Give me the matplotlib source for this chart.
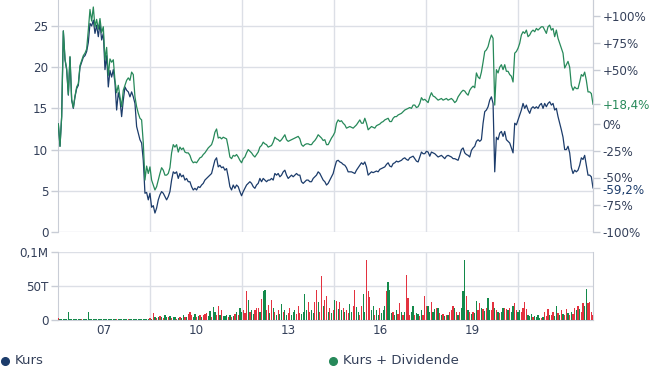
import matplotlib
matplotlib.use("Agg")
import matplotlib.pyplot as plt
from matplotlib.lines import Line2D
from matplotlib.transforms import ScaledTranslation
import pandas as pd
import numpy as np

# ---------------- data ----------------
kurs = [
    13.1, 10.4, 14.0, 24.4, 20.9, 19.7, 16.6, 21.2, 16.0, 15.0,
    16.4, 17.4, 17.8, 20.0, 20.6, 21.2, 21.4, 21.9, 23.0, 25.3,
    25.0, 25.7, 24.1, 25.1, 23.7, 25.3, 23.3, 24.1, 19.7, 21.4,
    17.6, 19.6, 18.8, 19.7, 18.1, 14.8, 16.9, 16.0, 14.0, 16.0,
    17.6, 17.2, 17.0, 16.4, 17.0, 16.4, 15.6, 12.8, 12.0, 11.2,
    10.8, 8.7, 4.7, 4.8, 3.9, 4.7, 3.0, 3.2, 2.3, 2.9,
    3.9, 4.5, 4.9, 4.7, 4.3, 3.9, 4.3, 4.9, 6.3, 7.3,
    7.1, 7.3, 6.5, 7.1, 6.7, 6.9, 6.3, 6.5, 6.1, 6.1,
    5.5, 5.1, 5.3, 5.1, 5.5, 5.4, 5.7, 5.9, 6.3, 6.5,
    6.7, 6.9, 7.1, 7.9, 8.7, 9.0, 7.9, 8.1, 7.8, 7.9,
    7.5, 7.7, 6.7, 5.5, 5.1, 5.7, 5.3, 5.7, 5.5, 4.9,
    4.4, 4.9, 5.3, 5.7, 5.9, 6.1, 5.9, 5.5, 5.3, 5.7,
    5.9, 6.5, 6.1, 6.5, 6.3, 6.1, 6.3, 6.3, 6.5, 6.3,
    7.1, 6.9, 7.1, 6.7, 6.9, 7.3, 7.5, 6.9, 6.5, 6.7,
    6.9, 6.7, 6.9, 7.1, 6.9, 6.9, 6.1, 5.9, 6.1, 6.3,
    6.3, 6.1, 6.1, 6.5, 6.7, 6.9, 7.3, 7.1, 6.7, 6.3,
    6.1, 5.7, 5.9, 6.3, 6.7, 7.1, 7.9, 8.6, 8.7, 8.5,
    8.4, 8.2, 8.1, 7.8, 7.3, 7.3, 7.3, 7.2, 7.1, 7.5,
    7.8, 8.1, 8.4, 8.2, 8.5, 7.9, 6.9, 7.1, 7.3, 7.2,
    7.3, 7.4, 7.3, 7.6, 7.7, 7.8, 7.9, 8.2, 8.4, 8.0,
    7.9, 8.3, 8.4, 8.6, 8.5, 8.6, 8.7, 8.9, 9.0, 8.8,
    8.7, 9.0, 9.1, 9.2, 8.9, 8.6, 8.5, 9.1, 9.7, 9.5,
    9.5, 9.8, 9.7, 9.2, 9.7, 9.6, 9.5, 9.3, 9.1, 9.2,
    9.3, 9.1, 8.9, 9.2, 9.3, 9.2, 9.1, 8.9, 8.9, 8.8,
    8.7, 9.3, 10.0, 10.2, 9.6, 9.4, 9.3, 9.1, 9.9, 10.2,
    10.4, 11.0, 11.2, 11.0, 11.2, 13.2, 14.6, 14.8, 15.2, 16.0,
    16.4, 15.6, 7.3, 11.5, 11.2, 12.0, 12.2, 11.6, 12.2, 11.2,
    11.0, 10.8, 10.2, 9.6, 13.2, 13.0, 13.6, 14.2, 14.8, 15.6,
    15.0, 15.4, 14.8, 14.4, 15.0, 15.2, 15.0, 15.2, 15.0, 15.4,
    15.6, 15.0, 15.6, 15.2, 15.6, 15.8, 15.4, 15.6, 14.8, 15.0,
    14.0, 13.2, 12.4, 11.5, 10.0, 10.0, 10.4, 9.6, 7.8, 7.1,
    7.5, 7.3, 7.5, 8.1, 9.0, 8.8, 9.3, 8.1, 6.9, 6.9,
    6.7, 5.35,
]

kurs_div = [
    13.1, 10.4, 14.0, 24.4, 21.0, 19.8, 16.7, 21.3, 16.1, 15.1,
    16.5, 17.6, 18.0, 20.2, 20.8, 21.4, 21.7, 22.2, 24.5, 27.0,
    25.6, 27.3, 24.9, 25.8, 24.6, 25.9, 24.2, 24.9, 20.9, 22.4,
    19.0, 21.0, 20.6, 20.9, 18.4, 16.9, 17.8, 16.4, 15.2, 17.2,
    17.8, 18.4, 18.7, 18.4, 19.4, 19.1, 16.4, 15.2, 14.4, 13.8,
    13.6, 10.8, 6.3, 8.0, 7.1, 7.9, 6.3, 5.7, 5.1, 5.5,
    6.3, 7.1, 7.8, 7.5, 6.9, 6.9, 7.1, 7.8, 9.6, 10.6,
    10.3, 10.6, 9.7, 10.3, 10.0, 10.2, 9.7, 9.6, 9.6, 9.3,
    8.7, 8.4, 8.5, 8.4, 8.7, 9.0, 9.1, 9.4, 9.6, 9.9,
    10.2, 10.4, 10.6, 11.2, 12.1, 12.5, 11.4, 11.5, 11.3, 11.5,
    11.4, 11.3, 10.3, 9.1, 8.9, 9.3, 9.2, 9.4, 9.1, 8.7,
    8.4, 8.9, 9.1, 9.6, 10.0, 9.8, 9.6, 9.3, 9.1, 9.4,
    9.7, 10.3, 10.5, 10.9, 10.7, 10.6, 10.3, 10.4, 10.5, 10.9,
    11.5, 11.3, 11.2, 11.0, 11.2, 11.5, 11.8, 11.2, 11.0, 11.1,
    11.2, 11.3, 11.4, 11.5, 11.6, 11.3, 10.6, 10.4, 10.6, 10.7,
    10.7, 10.6, 10.6, 10.9, 11.1, 11.4, 11.8, 11.6, 11.4, 11.1,
    11.2, 10.6, 10.6, 11.0, 11.4, 11.7, 12.1, 13.2, 13.6, 13.4,
    13.5, 13.2, 13.0, 12.6, 12.7, 12.8, 12.7, 12.6, 12.8, 13.0,
    13.3, 13.6, 13.2, 13.2, 13.8, 13.2, 12.4, 12.6, 12.8, 12.7,
    12.6, 12.9, 13.0, 13.1, 13.3, 13.4, 13.6, 13.7, 13.8, 13.4,
    13.4, 13.8, 14.0, 14.0, 14.2, 14.3, 14.4, 14.6, 14.8, 14.9,
    15.0, 15.1, 15.0, 15.4, 15.4, 15.1, 15.2, 15.6, 16.3, 16.0,
    16.1, 15.9, 15.7, 16.4, 16.9, 16.5, 16.4, 16.2, 16.0, 16.1,
    16.2, 16.0, 16.1, 16.2, 16.0, 16.1, 16.2, 16.0, 15.7, 15.9,
    16.4, 16.7, 17.0, 17.2, 17.1, 16.8, 16.6, 17.2, 17.5, 17.7,
    17.5, 19.3, 18.8, 18.6, 19.4, 20.6, 21.9, 22.1, 22.5, 23.3,
    23.9, 23.5, 15.4, 19.7, 19.3, 20.0, 20.3, 19.7, 20.3, 19.5,
    19.5, 19.1, 18.9, 18.2, 21.7, 21.9, 22.3, 22.9, 23.9, 24.3,
    24.1, 24.5, 23.7, 23.9, 24.3, 24.5, 24.3, 24.7, 24.5, 24.7,
    24.9, 24.9, 24.5, 24.1, 24.9, 25.1, 24.5, 24.7, 23.7, 24.5,
    23.5, 22.9, 22.3, 21.7, 19.9, 20.3, 20.7, 20.0, 17.8, 17.2,
    17.6, 17.4, 17.4, 18.2, 19.1, 18.9, 19.4, 18.4, 17.0, 17.0,
    16.8, 15.51,
]

# volume in thousands
volume = [
    3, 1, 1, 1, 1, 1, 12, 1, 1, 1, 1, 1, 1, 1, 1, 1, 1, 1, 12, 1,
    1, 1, 1, 1, 1, 1, 1, 1, 1, 1, 1, 1, 1, 1, 1, 2, 1, 1, 1, 1,
    1, 1, 2, 1, 1, 1, 1, 1, 1, 1, 1, 1, 1, 1, 2, 3, 2, 10, 4, 3,
    5, 6, 4, 3, 7, 5, 4, 6, 3, 5, 4, 2, 3, 4, 3, 8, 4, 5, 9, 11,
    7, 5, 9, 4, 6, 8, 5, 7, 9, 10, 6, 13, 5, 19, 12, 8, 20, 7, 15, 6,
    6, 8, 5, 7, 4, 6, 9, 12, 8, 17, 11, 15, 10, 42, 29, 12, 15, 9, 15, 18,
    17, 12, 30, 42, 44, 14, 22, 10, 29, 18, 12, 8, 14, 9, 23, 12, 14, 7, 10, 17,
    8, 12, 15, 9, 21, 10, 9, 12, 38, 14, 26, 12, 14, 10, 27, 44, 26, 12, 64, 20,
    29, 35, 12, 17, 10, 14, 29, 28, 16, 26, 14, 17, 12, 15, 10, 23, 12, 20, 44, 19,
    12, 8, 20, 38, 12, 88, 42, 34, 14, 20, 8, 14, 7, 18, 10, 14, 20, 43, 56, 44,
    10, 12, 8, 15, 9, 25, 11, 8, 12, 65, 32, 8, 12, 20, 7, 10, 9, 6, 14, 8,
    35, 21, 20, 12, 27, 12, 16, 18, 17, 10, 7, 9, 6, 8, 7, 12, 14, 21, 18, 11,
    8, 12, 17, 43, 88, 35, 15, 12, 9, 12, 10, 28, 15, 25, 17, 16, 13, 18, 32, 15,
    15, 26, 18, 14, 12, 10, 11, 17, 18, 16, 15, 18, 12, 21, 25, 14, 12, 15, 12, 18,
    26, 16, 8, 6, 9, 4, 6, 5, 7, 3, 3, 4, 12, 6, 16, 7, 8, 12, 6, 20,
    10, 8, 15, 9, 7, 16, 10, 8, 12, 9, 18, 14, 20, 16, 12, 25, 20, 45, 25, 26, 12, 7,
]

volume_dir = (
    "rgggggggggggggrggggg"
    "gggggggggggggggrgggg"
    "ggrggggggggggggrgrgr"
    "grgrggrgrggrgrggrgrr"
    "rggrgrgrrrggrggrrgrg"
    "ggrgrgrgrggrrrgrggrr"
    "rgrggrrgrgrgrggrggrr"
    "gggrrrggggrrggrrgrrg"
    "rrgrgrgrgrgrgrrggrrg"
    "grrggrrrggrggrgggrgg"
    "grggrrgrgrrrggrggrgr"
    "rrggrggrgrgrgrgrrrgr"
    "grgggrgrgrggrrgrgrgg"
    "rrgrgrggrrgrggrrggrr"
    "rrgggrggggrgrrrgrrgg"
    "rgrgrrgrgrrgrgrrggrrrr"
)

dates = pd.date_range("2005-07-05", periods=len(kurs), freq="476h")
year_ticks = pd.to_datetime(["2007-01-01", "2010-01-01", "2013-01-01", "2016-01-01", "2019-01-01"])
year_labels = ["07", "10", "13", "16", "19"]
grid_dates = pd.to_datetime(["2008-07-01", "2011-07-01", "2014-07-01", "2017-07-01", "2020-07-01"])

# ---------------- style ----------------
NAVY = "#1c3c6b"
GREEN = "#27895a"
RED = "#e3323f"
VGREEN = "#13894a"
TXT = "#34405a"
GRID = "#dcdfe6"
SPINE = "#c9cdd6"
plt.rcParams["font.family"] = ["DejaVu Sans"]

W, H = 650, 371
fig = plt.figure(figsize=(W / 100, H / 100), dpi=100)
ax = fig.add_axes([58 / W, 1 - 232 / H, 535 / W, 232 / H])
axv = fig.add_axes([58 / W, 1 - 320 / H, 535 / W, 68.5 / H], sharex=ax)

# ---------------- price panel ----------------
ax.plot(dates, kurs, color=NAVY, lw=0.9, zorder=3)
ax.plot(dates, kurs_div, color=GREEN, lw=0.9, zorder=4)
ymax = 28.15
ax.set_ylim(0, ymax)
ax.set_xlim(pd.Timestamp("2005-07-01"), dates[-1])
ax.set_yticks([0, 5, 10, 15, 20, 25])
ax.set_xticks(year_ticks)
ax.set_xticks(grid_dates, minor=True)
ax.grid(axis="y", color=GRID, lw=1)
ax.grid(axis="x", which="minor", color=GRID, lw=1)
ax.tick_params(axis="x", which="both", length=0, labelbottom=False)
ax.tick_params(axis="y", length=5, width=1, color=SPINE, labelsize=8.6,
               labelcolor=TXT, pad=2)
for s in ["top", "bottom"]:
    ax.spines[s].set_visible(False)
for s in ["left", "right"]:
    ax.spines[s].set_color(SPINE)

# right percent axis
base = kurs[0]
def pct(v):
    return (v / base - 1) * 100

ax2 = ax.twinx()
ax2.set_ylim(pct(0), pct(ymax))
p_div = pct(kurs_div[-1])
p_kurs = pct(kurs[-1])
rticks = [100, 75, 50, p_div, 0, -25, -50, p_kurs, -75, -100]

def fmt(p):
    if abs(p - round(p)) < 1e-9:
        p = int(round(p))
        return "0%" if p == 0 else f"{p:+d}%"
    return f"{p:+.1f}%".replace(".", ",")

ax2.set_yticks(rticks)
ax2.set_yticklabels([fmt(p) for p in rticks])
ax2.tick_params(axis="y", length=5, width=1, color=SPINE, labelsize=8.6,
                labelcolor=TXT, pad=2)
for s in ["top", "bottom", "left"]:
    ax2.spines[s].set_visible(False)
ax2.spines["right"].set_color(SPINE)
for tick, p in zip(ax2.yaxis.get_major_ticks(), rticks):
    lab = tick.label2
    if p == p_div:
        lab.set_color(GREEN)
    elif p == p_kurs:
        lab.set_color(NAVY)
        lab.set_transform(lab.get_transform() + ScaledTranslation(0, -1.5 / 100, fig.dpi_scale_trans))
    elif p == -50:
        lab.set_transform(lab.get_transform() + ScaledTranslation(0, 1.5 / 100, fig.dpi_scale_trans))

# ---------------- volume panel ----------------
vcols = [VGREEN if c == "g" else RED for c in volume_dir]
axv.bar(dates, np.array(volume) * 1000, width=15, color=vcols, lw=0, zorder=3)
axv.set_ylim(0, 100000)
axv.set_yticks([0, 50000, 100000])
axv.set_yticklabels(["0", "50T", "0,1M"])
axv.set_xticks(year_ticks)
axv.set_xticklabels(year_labels)
axv.set_xticks(grid_dates, minor=True)
axv.grid(axis="y", color=GRID, lw=1)
axv.grid(axis="x", which="minor", color=GRID, lw=1)
axv.tick_params(axis="x", which="both", length=0, labelsize=8.6, labelcolor=TXT, pad=3)
axv.tick_params(axis="y", length=5, width=1, color=SPINE, labelsize=8.6,
                labelcolor=TXT, pad=2)
for s in ["left", "right", "bottom"]:
    axv.spines[s].set_color(SPINE)
axv.spines["top"].set_visible(False)

# ---------------- legend ----------------
legend_items = [("Kurs", NAVY, 4.5, 15), ("Kurs + Dividende", GREEN, 332.5, 343)]
for label, col, xd, xt in legend_items:
    fig.add_artist(Line2D([xd / W], [1 - 361 / H], marker="o", ms=5.5, color=col,
                          lw=0, transform=fig.transFigure))
    fig.text(xt / W, 1 - 360 / H, label, color=TXT, fontsize=9.5, va="center", ha="left")

fig.savefig("out.png", dpi=100)
